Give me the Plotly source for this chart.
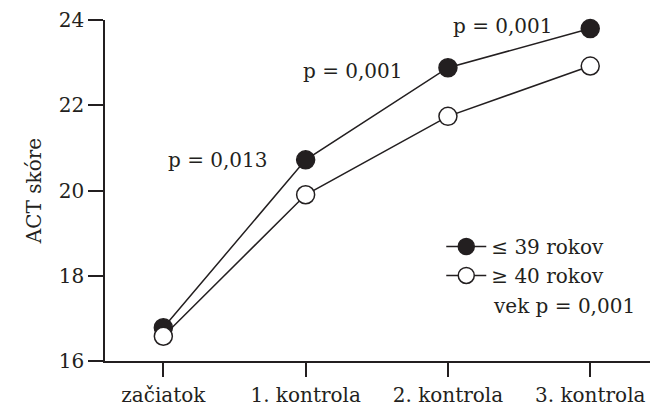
import plotly.graph_objects as go

# ACT score over follow-up visits, by age group
visits = ["začiatok", "1. kontrola", "2. kontrola", "3. kontrola"]
young = [16.78, 20.72, 22.88, 23.80]   # ≤ 39 rokov
older = [16.58, 19.90, 21.74, 22.92]   # ≥ 40 rokov
p_labels = ["p = 0,013", "p = 0,001", "p = 0,001"]
p_visits = [1, 2, 3]
p_shift = [(-36, 0), (-43, -3), (-35, 3)]
y_ticks = [16, 18, 20, 22, 24]

INK = "#231f20"
FONT = dict(family="DejaVu Serif", size=20, color=INK)

fig = go.Figure()
fig.add_trace(go.Scatter(
    x=list(range(len(visits))), y=young, mode="lines+markers",
    name="≤ 39 rokov", legendgroup="a",
    line=dict(color=INK, width=1.5),
    marker=dict(size=18, color=INK, line=dict(color=INK, width=1.5)),
    cliponaxis=False,
))
fig.add_trace(go.Scatter(
    x=list(range(len(visits))), y=older, mode="lines+markers",
    name="≥ 40 rokov", legendgroup="b",
    line=dict(color=INK, width=1.5),
    marker=dict(size=18, color="white", line=dict(color=INK, width=1.5)),
    cliponaxis=False,
))

for txt, xi, (dx, dy) in zip(p_labels, p_visits, p_shift):
    fig.add_annotation(
        x=xi, y=young[xi], text=txt, showarrow=False,
        xanchor="right", yanchor="middle", xshift=dx, yshift=dy,
        font=FONT,
    )

fig.add_annotation(
    x=0.708, y=0.16, xref="paper", yref="paper", text="vek p = 0,001",
    showarrow=False, xanchor="left", yanchor="middle", font=FONT,
)

fig.update_layout(
    width=661, height=407,
    margin=dict(l=105, r=11, t=20, b=46),
    paper_bgcolor="white", plot_bgcolor="white",
    font=FONT,
    showlegend=True,
    legend=dict(
        x=0.617, y=0.393, xanchor="left", yanchor="top",
        bgcolor="rgba(0,0,0,0)", font=FONT,
        traceorder="grouped", tracegroupgap=0, itemwidth=40,
    ),
    xaxis=dict(
        range=[-0.41, 3.42], tickmode="array",
        tickvals=list(range(len(visits))), ticktext=visits,
        showgrid=False, zeroline=False, showline=True,
        linecolor=INK, linewidth=1.5, automargin=False,
        ticks="outside", ticklen=14, tickwidth=1.5, tickcolor=INK,
        ticklabelstandoff=1,
    ),
    yaxis=dict(
        range=[16, 24], tickmode="array", tickvals=y_ticks,
        showgrid=False, zeroline=False, showline=True,
        linecolor=INK, linewidth=1.5, automargin=False,
        ticks="outside", ticklen=15, tickwidth=1.5, tickcolor=INK,
        title=dict(text="ACT skóre", font=FONT, standoff=12),
    ),
)

fig.write_html("out.html")
